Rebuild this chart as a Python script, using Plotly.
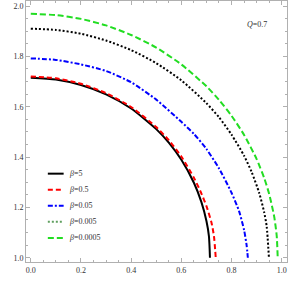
import plotly.graph_objects as go

# ---- data ----
labels = ["5", "0.5", "0.05", "0.005", "0.0005"]

x_b5 = [0, 0.1, 0.2, 0.3, 0.4, 0.5, 0.55, 0.6, 0.65, 0.68, 0.70, 0.71, 0.714]
y_b5 = [1.715, 1.708, 1.686, 1.649, 1.593, 1.511, 1.457, 1.389, 1.298, 1.221, 1.146, 1.085, 1.0]

x_b05 = [0, 0.1, 0.2, 0.3, 0.4, 0.5, 0.55, 0.6, 0.65, 0.68, 0.70, 0.72, 0.73, 0.737]
y_b05 = [1.720, 1.713, 1.691, 1.654, 1.599, 1.519, 1.467, 1.402, 1.318, 1.255, 1.205, 1.14, 1.085, 1.0]

x_b005 = [0, 0.1, 0.2, 0.3, 0.4, 0.5, 0.6, 0.65, 0.7, 0.75, 0.8, 0.83, 0.85, 0.86, 0.865]
y_b005 = [1.792, 1.786, 1.768, 1.742, 1.697, 1.628, 1.540, 1.492, 1.432, 1.355, 1.258, 1.185, 1.11, 1.05, 1.0]

x_b0005 = [0, 0.1, 0.2, 0.3, 0.4, 0.5, 0.6, 0.7, 0.75, 0.8, 0.85, 0.88, 0.91, 0.93, 0.94, 0.949]
y_b0005 = [1.910, 1.905, 1.890, 1.863, 1.825, 1.773, 1.705, 1.614, 1.558, 1.489, 1.405, 1.341, 1.258, 1.181, 1.125, 1.0]

x_b00005 = [0, 0.1, 0.2, 0.3, 0.4, 0.5, 0.6, 0.7, 0.75, 0.8, 0.85, 0.9, 0.93, 0.95, 0.97, 0.98, 0.984]
y_b00005 = [1.969, 1.964, 1.949, 1.923, 1.885, 1.835, 1.768, 1.681, 1.627, 1.564, 1.488, 1.392, 1.317, 1.253, 1.163, 1.087, 1.0]

xs = [x_b5, x_b05, x_b005, x_b0005, x_b00005]
ys = [y_b5, y_b05, y_b005, y_b0005, y_b00005]

# styles
colors = ["#000000", "#ff0000", "#0000ff", "#000000", "#22dd22"]
legend_colors = ["#000000", "#ff0000", "#0000ff", "#5f9f5f", "#22dd22"]
dashes = ["solid", "5px,3px", "5px,2px,2px,2px", "2px,2px", "6px,3px"]

fig = go.Figure()
for x, y, c, d, lab in zip(xs, ys, colors, dashes, labels):
    fig.add_trace(go.Scatter(x=x, y=y, mode="lines",
                             line=dict(color=c, width=2, dash=d, shape="spline", smoothing=0.6),
                             name="β=" + lab, showlegend=False))

# custom legend (to match the compact spacing of the reference)
leg_x0, leg_x1, leg_tx = 0.068, 0.131, 0.146
leg_y0, leg_dy = 1.334, 0.0638
shapes = []
annotations = []
for i, (lab, c, d) in enumerate(zip(labels, legend_colors, dashes)):
    yy = leg_y0 - i * leg_dy
    shapes.append(dict(type="line", xref="x", yref="y", x0=leg_x0, x1=leg_x1, y0=yy, y1=yy,
                       line=dict(color=c, width=2, dash=d)))
    annotations.append(dict(x=leg_tx, y=yy, xref="x", yref="y", text="<i>β</i>=" + lab,
                            showarrow=False, xanchor="left", yanchor="middle",
                            font=dict(family="Liberation Serif", size=8, color="#333333")))

annotations.append(dict(x=0.900, y=1.927, xref="x", yref="y", text="<i>Q</i>=0.7",
                        showarrow=False, xanchor="center", yanchor="middle",
                        font=dict(family="Liberation Serif", size=8, color="#333333")))

axis_common = dict(showline=True, linecolor="#b0b0b0", linewidth=1, mirror="ticks",
                   ticks="inside", ticklen=4, tickcolor="#b0b0b0", tickwidth=1,
                   showgrid=False, zeroline=False, dtick=0.2, tickformat=".1f",
                   automargin=False,
                   tickfont=dict(family="Liberation Serif", size=8, color="#333333"),
                   minor=dict(ticks="inside", ticklen=2, dtick=0.05, tickcolor="#b0b0b0", showgrid=False))

fig.update_layout(
    width=289, height=287,
    margin=dict(l=26, r=2, t=1, b=25),
    paper_bgcolor="white", plot_bgcolor="white",
    xaxis=dict(range=[-0.019, 1.021], tick0=0, **axis_common),
    yaxis=dict(range=[0.983, 2.02], tick0=0, **axis_common),
    shapes=shapes, annotations=annotations,
    showlegend=False,
)

fig.write_html("out.html",
               config={"displayModeBar": False},
               post_script="document.body.style.margin='0';document.body.style.padding='0';document.body.style.overflow='hidden';")
